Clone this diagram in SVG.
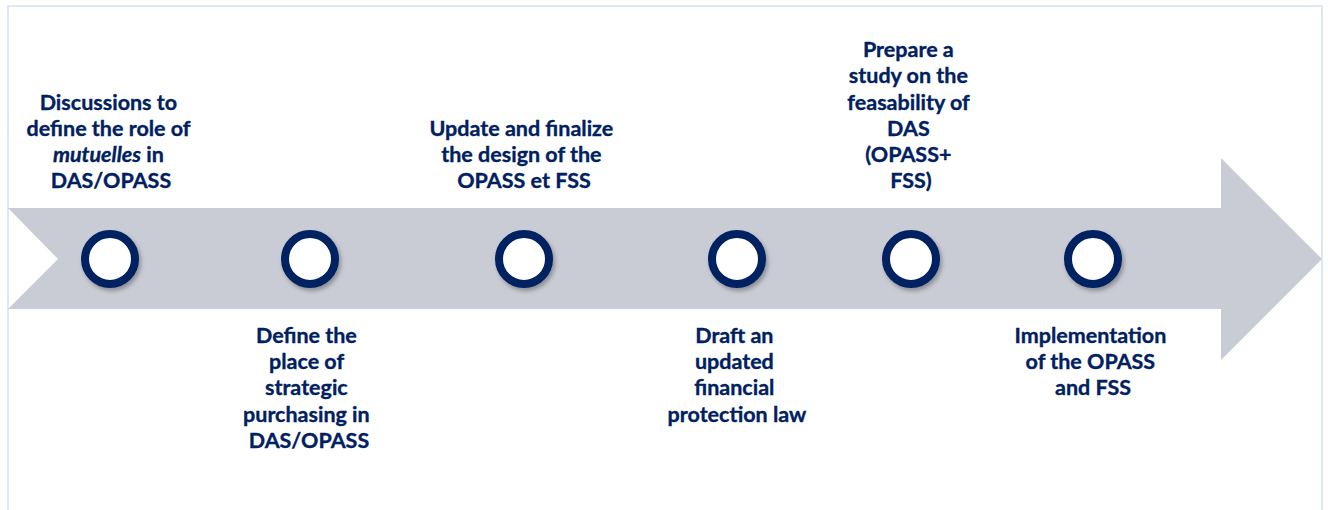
<svg xmlns="http://www.w3.org/2000/svg" width="1328" height="510" viewBox="0 0 1328 510">
  <defs>
    <filter id="shadow" x="-40%" y="-40%" width="180%" height="180%">
      <feDropShadow dx="2" dy="3" stdDeviation="2" flood-color="#000" flood-opacity="0.3"/>
    </filter>
    <style>
      .frame { fill: #ffffff; stroke: #dde8f2; stroke-width: 2; }
      .band { fill: #c9ccd4; }
      .dot { fill: #ffffff; stroke: #002060; stroke-width: 8; filter: url(#shadow); }
      .label { font-family: Lato, "Liberation Sans", sans-serif; font-weight: bold; font-size: 21.5px; fill: #002060; stroke: #002060; stroke-width: 0.35px; text-anchor: middle; }
    </style>
  </defs>

  <!-- outer frame -->
  <rect class="frame" x="8" y="6" width="1314" height="520"/>

  <!-- timeline arrow -->
  <g id="connectors">
    <polygon class="band" points="8,208 1221,208 1221,158 1322,259 1221,360 1221,309 8,309 58,259"/>
  </g>

  <g id="step1">
    <circle class="dot" cx="110" cy="259" r="25"/>
    <text class="label">
      <tspan x="111" y="110">Discussions to</tspan>
      <tspan x="111" y="136">define the role of</tspan>
      <tspan x="111" y="162"><tspan font-style="italic">mutuelles</tspan> in</tspan>
      <tspan x="111" y="188">DAS/OPASS</tspan>
    </text>
  </g>

  <g id="step2">
    <circle class="dot" cx="310" cy="259" r="25"/>
    <text class="label">
      <tspan x="309" y="343">Define the</tspan>
      <tspan x="309" y="369">place of</tspan>
      <tspan x="309" y="395">strategic</tspan>
      <tspan x="309" y="422">purchasing in</tspan>
      <tspan x="309" y="448">DAS/OPASS</tspan>
    </text>
  </g>

  <g id="step3">
    <circle class="dot" cx="524" cy="259" r="25"/>
    <text class="label">
      <tspan x="524" y="136">Update and finalize</tspan>
      <tspan x="524" y="162">the design of the</tspan>
      <tspan x="524" y="188">OPASS et FSS</tspan>
    </text>
  </g>

  <g id="step4">
    <circle class="dot" cx="737" cy="259" r="25"/>
    <text class="label">
      <tspan x="737" y="343">Draft an</tspan>
      <tspan x="737" y="369">updated</tspan>
      <tspan x="737" y="395">financial</tspan>
      <tspan x="737" y="422">protection law</tspan>
    </text>
  </g>

  <g id="step5">
    <circle class="dot" cx="911" cy="259" r="25"/>
    <text class="label">
      <tspan x="911" y="57">Prepare a</tspan>
      <tspan x="911" y="83">study on the</tspan>
      <tspan x="911" y="110">feasability of</tspan>
      <tspan x="911" y="136">DAS</tspan>
      <tspan x="911" y="162">(OPASS+</tspan>
      <tspan x="911" y="188">FSS)</tspan>
    </text>
  </g>

  <g id="step6">
    <circle class="dot" cx="1093" cy="259" r="25"/>
    <text class="label">
      <tspan x="1093" y="343">Implementation</tspan>
      <tspan x="1093" y="369">of the OPASS</tspan>
      <tspan x="1093" y="395">and FSS</tspan>
    </text>
  </g>
</svg>
